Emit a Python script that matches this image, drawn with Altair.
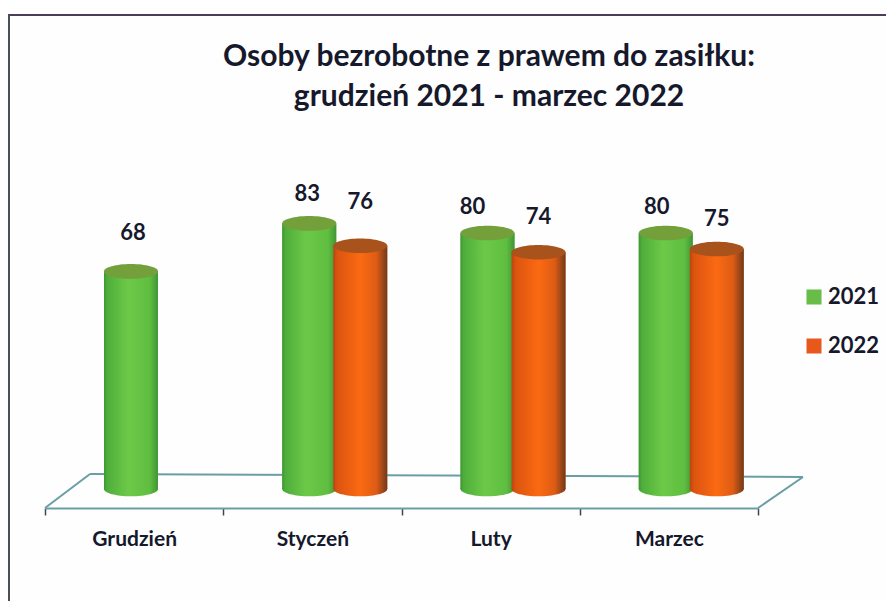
import altair as alt
import pandas as pd

months = ["Grudzień", "Styczeń", "Luty", "Marzec"]
values_2021 = [68, 83, 80, 80]
values_2022 = [None, 76, 74, 75]
series = ["2021", "2022"]
title_lines = ["Osoby bezrobotne z prawem do zasiłku:", "grudzień 2021 - marzec 2022"]

rows = []
for m, a, b in zip(months, values_2021, values_2022):
    rows.append({"month": m, "series": "2021", "value": a})
    if b is not None:
        rows.append({"month": m, "series": "2022", "value": b})
df = pd.DataFrame(rows)
df["zero"] = df["value"] * 0

FONT = "Lato"
INK = "#16182c"
TOP = 142
x_enc = alt.X("month:N", scale=alt.Scale(domain=months, range=[37, 750], paddingInner=0, paddingOuter=0),
              sort=months,
              axis=alt.Axis(title=None, labelAngle=0, tickBand="extent", domainColor="#6a9ea6", domainWidth=2,
                            tickColor="#3c4450", tickSize=7, tickWidth=1.5, labelFont=FONT, labelFontWeight="bold",
                            labelFontSize=21, labelColor=INK, labelPadding=13, grid=False))
off_enc = alt.XOffset("series:N", scale=alt.Scale(type="point", padding=0, domain=series, range=[86, 137]))
y_scale = alt.Scale(domain=[0, 105.94], range=[339, 0])
y_enc = alt.Y("value:Q", scale=y_scale, axis=None)
y_zero = alt.Y("zero:Q", scale=y_scale, axis=None)
y2_zero = alt.Y2("zero:Q")


def grad(stops):
    return alt.Gradient(gradient="linear", x1=0, x2=1, y1=0, y2=0,
                        stops=[alt.GradientStop(offset=o, color=c) for o, c in stops])


green = grad([(0, "#3f9436"), (0.06, "#4fae3b"), (0.45, "#6cc948"), (0.85, "#5fbd40"), (1, "#3f9636")])
orange = grad([(0, "#b9460f"), (0.08, "#dc5410"), (0.5, "#fb6a12"), (0.8, "#dd5c14"), (1, "#703a1c")])
ELLIPSE = "M-1,0A1,0.27 0 1,0 1,0A1,0.27 0 1,0 -1,0Z"
cap = {"2021": "#74a03c", "2022": "#a8521c"}
body = {"2021": green, "2022": orange}

base = alt.Chart(df).encode(x=x_enc, xOffset=off_enc, y=y_enc)


def rule(x, x2, y, y2, color, width):
    return alt.Chart(df.head(1)).mark_rule(color=color, strokeWidth=width).encode(
        x=alt.value(x), x2=alt.value(x2), y=alt.value(y), y2=alt.value(y2))


layers = [
    rule(0, 886, -135, -135, "#4d3c55", 2),
    rule(1, 1, -135, 467, "#4a5058", 2),
    rule(82, 795, 324, 327, "#6a9ea6", 2),
    rule(37, 82, 358, 324, "#6a9ea6", 2),
    rule(750, 795, 358, 327, "#6a9ea6", 2),
]

for line, ypos in zip(title_lines, [-93, -53]):
    layers.append(
        alt.Chart(pd.DataFrame({"line": [line]})).mark_text(
            font=FONT, fontWeight="bold", fontSize=30, color=INK, align="center", baseline="middle"
        ).encode(x=alt.value(481), y=alt.value(ypos), text="line:N")
    )

# flat colour bars carry the legend; shaded cylinders are drawn over them
layers.append(
    base.mark_bar(width=54).encode(
        y2=y2_zero,
        color=alt.Color("series:N", scale=alt.Scale(domain=series, range=["#67bd47", "#e8581c"]),
                        legend=alt.Legend(title=None, orient="none", legendX=795, legendY=136, symbolType="square",
                                          symbolSize=225, symbolStrokeWidth=0, symbolOpacity=1,
                                          labelFont=FONT, labelFontWeight="bold",
                                          labelFontSize=22, labelColor=INK, rowPadding=27, labelOffset=3)))
)
for s in series:
    sel = base.transform_filter(alt.datum.series == s)
    layers.append(sel.mark_point(shape=ELLIPSE, size=2916, filled=True, opacity=1, fill=body[s]).encode(y=y_zero))
    layers.append(sel.mark_bar(width=54, fill=body[s]).encode(y2=y2_zero))
    layers.append(sel.mark_point(shape=ELLIPSE, size=2916, filled=True, opacity=1, fill=cap[s]))

nudges = {("Grudzień", "2021"): (2, -38), ("Styczeń", "2021"): (-2, -29), ("Styczeń", "2022"): (0, -44),
          ("Luty", "2021"): (-15, -26), ("Luty", "2022"): (0, -35), ("Marzec", "2021"): (-9, -26),
          ("Marzec", "2022"): (0, -30)}
for (m, s), (dx, dy) in nudges.items():
    layers.append(
        base.transform_filter((alt.datum.month == m) & (alt.datum.series == s))
        .mark_text(font=FONT, fontWeight="bold", fontSize=22, color=INK, dx=dx, dy=dy)
        .encode(text="value:Q")
    )

chart = alt.layer(*layers).properties(
    width=878, height=358,
    padding={"left": 0, "top": TOP, "right": 0, "bottom": 93},
    autosize=alt.AutoSizeParams(type="none"),
    background="#fefefe",
).configure_view(stroke=None)

chart.save("out.html", embed_options={"renderer": "svg", "actions": False})
